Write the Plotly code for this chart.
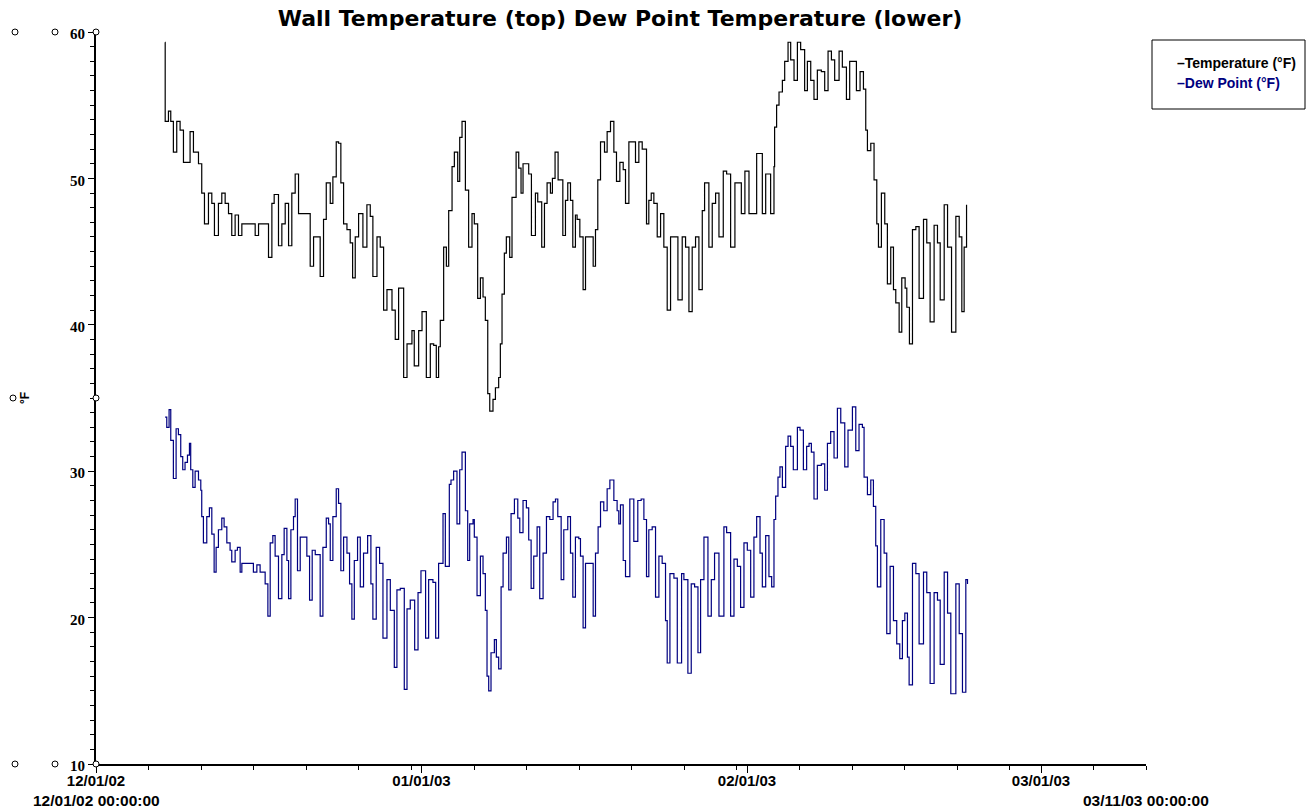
import pandas as pd
import plotly.graph_objects as go

# Time axis: day offsets from 12/01/02 00:00:00
START = pd.Timestamp("2002-12-01 00:00:00")
END = pd.Timestamp("2003-03-11 00:00:00")

# Wall temperature (°F)
temp_days = [
    6.58, 6.59, 6.90, 7.12, 7.37, 7.69, 8.01, 8.33, 8.96, 9.28,
    9.76, 10.07, 10.33, 10.71, 11.03, 11.28, 11.66, 11.98, 12.30, 12.62,
    12.93, 13.25, 13.57, 13.89, 14.68, 15.16, 15.48, 15.95, 16.43, 16.75,
    16.97, 17.38, 17.70, 18.02, 18.34, 18.65, 18.97, 19.29, 20.08, 20.40,
    20.72, 21.04, 21.35, 21.67, 21.93, 22.31, 22.56, 22.88, 23.10, 23.32,
    23.58, 23.90, 24.21, 24.44, 24.69, 25.01, 25.42, 25.80, 26.12, 26.37,
    26.76, 27.07, 27.39, 27.71, 28.03, 28.19, 28.50, 28.82, 29.30, 29.62,
    30.09, 30.31, 30.73, 31.05, 31.46, 31.84, 32.16, 32.41, 32.63, 32.79,
    33.11, 33.37, 33.59, 33.91, 34.13, 34.45, 34.64, 34.86, 35.18, 35.49,
    35.81, 36.03, 36.35, 36.61, 36.86, 37.08, 37.31, 37.50, 37.81, 38.04,
    38.35, 38.51, 38.67, 38.89, 39.08, 39.40, 39.62, 40.01, 40.26, 40.48,
    40.67, 40.99, 41.21, 41.47, 41.85, 42.07, 42.45, 42.71, 42.96, 43.28,
    43.47, 43.72, 44.01, 44.46, 44.71, 44.93, 45.19, 45.41, 45.66, 45.82,
    46.08, 46.39, 46.62, 47.03, 47.35, 47.57, 47.79, 48.05, 48.43, 48.68,
    49.00, 49.32, 49.57, 49.89, 50.21, 50.43, 50.75, 51.06, 51.38, 51.70,
    52.02, 52.43, 52.65, 52.88, 53.13, 53.45, 53.77, 54.08, 54.40, 54.72,
    55.10, 55.42, 55.83, 56.15, 56.47, 56.78, 57.10, 57.42, 57.74, 57.96,
    58.37, 58.69, 59.01, 59.33, 59.74, 60.06, 60.44, 60.85, 61.23, 61.46,
    61.80, 62.19, 62.35, 62.92, 63.46, 63.78, 64.25, 64.57, 64.63, 64.82,
    65.05, 65.37, 65.59, 65.91, 66.16, 66.48, 66.80, 67.11, 67.49, 67.75,
    68.07, 68.38, 68.70, 69.08, 69.40, 69.72, 70.04, 70.35, 70.77, 71.08,
    71.47, 71.78, 72.13, 72.42, 72.77, 73.09, 73.31, 73.47, 73.79, 74.10,
    74.36, 74.52, 74.80, 75.12, 75.37, 75.69, 75.95, 76.17, 76.49, 76.74,
    77.06, 77.22, 77.47, 77.76, 78.08, 78.39, 78.81, 79.12, 79.44, 79.82,
    80.14, 80.40, 80.78, 81.10, 81.48, 81.89, 82.21, 82.46, 82.68, 82.91,
]
temp_vals = [
    59.3, 53.9, 54.6, 53.9, 51.8, 53.9, 53.3, 51.1, 53.2, 51.8,
    51.0, 49.0, 46.9, 49.0, 48.3, 46.1, 48.3, 49.0, 48.3, 47.6,
    46.1, 47.5, 46.1, 46.9, 46.9, 46.1, 46.9, 46.9, 44.6, 48.3,
    48.9, 45.4, 46.9, 48.3, 45.4, 49.0, 50.3, 47.6, 47.6, 44.0,
    46.0, 46.0, 43.3, 47.2, 49.7, 48.3, 50.1, 52.5, 52.4, 49.7,
    46.9, 46.5, 45.6, 43.2, 46.0, 47.6, 45.3, 48.2, 47.4, 43.3,
    46.0, 45.3, 41.0, 42.4, 42.4, 41.0, 39.0, 42.5, 36.4, 38.7,
    39.6, 37.2, 39.6, 40.9, 36.4, 38.7, 38.6, 36.4, 38.5, 40.3,
    45.3, 44.0, 47.8, 50.8, 51.8, 49.8, 52.8, 53.9, 49.2, 45.3,
    47.6, 46.9, 41.8, 43.2, 41.9, 40.3, 35.3, 34.1, 34.9, 35.7,
    36.4, 38.7, 42.1, 44.9, 46.0, 44.6, 48.7, 51.8, 50.7, 49.0,
    51.0, 51.0, 50.3, 46.1, 49.0, 48.4, 45.3, 48.3, 49.7, 49.0,
    50.0, 51.8, 49.9, 46.1, 48.5, 49.7, 48.5, 45.3, 47.5, 47.2,
    46.0, 42.4, 46.0, 46.0, 44.0, 46.5, 49.9, 52.5, 51.8, 53.2,
    53.9, 51.8, 49.8, 51.1, 50.6, 48.3, 52.5, 52.5, 51.1, 52.5,
    52.0, 46.9, 48.5, 49.0, 48.3, 46.0, 47.6, 45.3, 41.0, 46.0,
    46.0, 41.7, 46.0, 45.3, 40.9, 45.3, 46.0, 42.4, 47.8, 49.7,
    45.3, 48.3, 49.0, 46.0, 50.5, 50.3, 45.3, 49.7, 49.7, 47.6,
    50.5, 47.6, 47.6, 51.7, 47.6, 50.3, 47.6, 50.8, 53.5, 55.0,
    55.9, 56.7, 58.0, 59.3, 58.1, 56.7, 59.3, 58.8, 56.0, 58.0,
    56.7, 55.4, 57.4, 57.3, 56.0, 58.7, 58.1, 56.7, 58.7, 57.6,
    55.4, 58.0, 58.0, 56.0, 57.3, 56.1, 53.3, 51.9, 52.4, 49.9,
    46.9, 45.3, 49.0, 46.9, 42.8, 45.3, 42.4, 41.5, 39.5, 43.2,
    42.5, 41.2, 38.7, 46.5, 46.7, 41.8, 47.2, 45.6, 40.2, 46.8,
    45.6, 41.7, 48.2, 45.3, 39.5, 47.4, 46.0, 40.9, 45.3, 48.2,
]

# Dew point (°F)
dew_days = [
    6.58, 6.74, 6.96, 7.12, 7.37, 7.63, 7.85, 8.07, 8.26, 8.48,
    8.71, 8.90, 9.02, 9.22, 9.44, 9.76, 9.98, 10.07, 10.23, 10.55,
    10.80, 11.03, 11.25, 11.44, 11.66, 11.98, 12.20, 12.46, 12.77, 12.93,
    13.25, 13.47, 13.73, 13.89, 14.68, 14.99, 15.32, 15.63, 16.11, 16.37,
    16.59, 16.84, 17.06, 17.38, 17.70, 17.92, 18.18, 18.34, 18.56, 18.81,
    18.97, 19.19, 19.45, 19.92, 20.08, 20.34, 20.59, 20.88, 21.35, 21.61,
    21.93, 22.15, 22.31, 22.56, 22.88, 23.10, 23.32, 23.58, 23.90, 24.15,
    24.37, 24.60, 24.91, 25.17, 25.48, 25.87, 26.18, 26.37, 26.69, 27.01,
    27.33, 27.71, 28.03, 28.41, 28.66, 28.98, 29.36, 29.62, 29.93, 30.35,
    30.67, 30.95, 31.39, 31.68, 32.09, 32.35, 32.63, 33.05, 33.27, 33.65,
    33.81, 34.06, 34.38, 34.64, 34.86, 35.18, 35.40, 35.59, 35.91, 36.03,
    36.29, 36.61, 36.86, 37.08, 37.24, 37.40, 37.62, 37.94, 38.13, 38.35,
    38.58, 38.77, 39.09, 39.31, 39.53, 39.85, 40.17, 40.36, 40.67, 40.99,
    41.21, 41.44, 41.69, 42.01, 42.26, 42.58, 42.90, 43.22, 43.53, 43.76,
    43.98, 44.30, 44.55, 44.93, 45.19, 45.41, 45.66, 45.98, 46.14, 46.39,
    46.62, 47.03, 47.35, 47.57, 47.82, 48.05, 48.36, 48.68, 48.94, 49.32,
    49.63, 49.79, 49.95, 50.21, 50.43, 50.84, 51.22, 51.60, 51.92, 52.18,
    52.43, 52.65, 52.97, 53.29, 53.61, 53.92, 54.24, 54.40, 54.66, 55.04,
    55.36, 55.77, 55.99, 56.37, 56.69, 57.01, 57.33, 57.58, 57.90, 58.28,
    58.60, 58.91, 59.33, 59.80, 60.06, 60.44, 60.76, 61.08, 61.39, 61.71,
    62.03, 62.35, 62.66, 62.92, 63.24, 63.46, 63.78, 64.09, 64.35, 64.57,
    64.73, 64.95, 65.14, 65.37, 65.68, 65.91, 66.16, 66.41, 66.80, 67.05,
    67.37, 67.68, 67.91, 68.13, 68.38, 68.70, 69.08, 69.40, 69.66, 69.97,
    70.29, 70.61, 70.93, 71.31, 71.62, 72.04, 72.36, 72.67, 72.99, 73.15,
    73.47, 73.79, 74.04, 74.26, 74.42, 74.74, 75.06, 75.31, 75.63, 75.95,
    76.26, 76.55, 76.80, 77.03, 77.28, 77.44, 77.76, 78.08, 78.39, 78.81,
    79.12, 79.44, 79.82, 80.14, 80.40, 80.78, 81.10, 81.41, 81.89, 82.21,
    82.52, 82.84, 83.00,
]
dew_vals = [
    33.7, 33.0, 34.2, 32.1, 29.5, 32.9, 32.5, 31.0, 30.1, 30.6,
    31.1, 31.9, 30.1, 28.9, 30.0, 29.4, 28.7, 26.9, 25.1, 26.9,
    27.5, 25.7, 23.1, 24.8, 26.0, 26.8, 26.2, 25.1, 24.6, 23.8,
    24.6, 24.8, 23.1, 23.7, 23.7, 23.1, 23.6, 23.1, 22.3, 20.1,
    25.1, 25.6, 24.2, 21.3, 24.3, 26.1, 23.9, 21.3, 26.0, 26.9,
    28.1, 23.2, 25.5, 25.5, 24.2, 21.2, 24.6, 24.3, 20.1, 24.8,
    26.8, 26.4, 23.9, 26.9, 28.8, 27.8, 23.2, 25.5, 24.4, 22.3,
    19.9, 23.9, 25.5, 22.1, 24.4, 25.6, 22.3, 19.9, 24.8, 23.7,
    18.6, 22.6, 20.5, 16.6, 21.9, 22.0, 15.1, 20.6, 21.2, 17.8,
    21.7, 23.2, 18.6, 22.6, 22.4, 18.6, 23.7, 27.1, 23.5, 29.1,
    29.4, 30.0, 26.4, 30.1, 31.3, 27.3, 23.9, 26.4, 26.7, 25.5,
    21.5, 24.2, 23.0, 20.5, 16.0, 15.0, 17.6, 18.5, 17.3, 16.5,
    22.1, 24.4, 25.5, 21.9, 27.1, 28.1, 26.8, 25.8, 28.0, 27.5,
    25.3, 22.0, 24.2, 26.2, 21.3, 24.4, 26.9, 26.7, 27.9, 28.1,
    26.9, 22.6, 26.0, 26.9, 24.4, 21.4, 25.5, 25.4, 24.2, 19.3,
    23.7, 23.7, 20.1, 24.4, 26.2, 27.9, 27.3, 28.8, 29.4, 28.0,
    27.3, 26.4, 27.7, 23.9, 22.8, 28.1, 25.2, 28.0, 28.1, 26.7,
    22.8, 26.0, 26.2, 21.4, 24.2, 23.7, 19.8, 16.9, 23.0, 22.7,
    16.9, 23.0, 22.6, 16.2, 22.3, 22.1, 17.6, 22.6, 25.5, 20.1,
    22.6, 24.4, 20.1, 26.2, 25.8, 20.1, 24.0, 23.5, 20.7, 25.1,
    24.6, 21.4, 25.5, 26.9, 24.4, 22.1, 25.6, 22.8, 22.1, 26.7,
    28.3, 29.6, 30.3, 28.9, 31.7, 32.4, 31.7, 30.1, 33.0, 32.8,
    30.1, 31.7, 31.9, 31.3, 28.1, 30.4, 30.5, 28.7, 31.9, 32.7,
    30.9, 34.3, 33.3, 30.3, 32.8, 34.4, 31.4, 33.2, 33.0, 29.6,
    28.4, 29.4, 27.6, 24.9, 22.1, 26.7, 24.4, 18.9, 23.5, 19.8,
    18.2, 17.2, 19.8, 20.3, 17.3, 15.4, 23.7, 23.0, 18.2, 23.1,
    21.7, 15.5, 21.7, 21.2, 16.8, 23.1, 20.3, 14.8, 22.3, 18.9,
    14.9, 22.6, 22.3,
]

# Axis ticks
major_ticks = ["2002-12-01", "2003-01-01", "2003-02-01", "2003-03-01"]
major_labels = ["12/01/02", "01/01/03", "02/01/03", "03/01/03"]
minor_ticks = [
    "2002-12-06", "2002-12-11", "2002-12-16", "2002-12-21", "2002-12-26", "2002-12-31",
    "2003-01-06", "2003-01-11", "2003-01-16", "2003-01-21", "2003-01-26", "2003-01-31",
    "2003-02-06", "2003-02-11", "2003-02-16", "2003-02-21", "2003-02-26",
    "2003-03-06", "2003-03-11",
]
y_ticks = [10, 20, 30, 40, 50, 60]
range_labels = ["12/01/02 00:00:00", "03/11/03 00:00:00"]

assert len(temp_days) == len(temp_vals)
assert len(dew_days) == len(dew_vals)


def to_dates(days):
    return [START + pd.Timedelta(days=d) for d in days]


TEMP_COLOR = "#000000"
DEW_COLOR = "#000080"
SANS = "Liberation Sans"

fig = go.Figure()
fig.add_trace(go.Scatter(
    x=to_dates(temp_days), y=temp_vals, mode="lines", name="Temperature (°F)",
    line=dict(color=TEMP_COLOR, width=1.2, shape="hv"), showlegend=False,
))
fig.add_trace(go.Scatter(
    x=to_dates(dew_days), y=dew_vals, mode="lines", name="Dew Point (°F)",
    line=dict(color=DEW_COLOR, width=1.2, shape="hv"), showlegend=False,
))

# Plot area spans x 96..1146 px, y 32..764 px
L, R, T, B = 96, 161, 32, 46
W, H = 1307, 810
pw, ph = W - L - R, H - T - B


def px_x(x):
    return (x - L) / pw


def px_y(y):
    return (H - B - y) / ph


fig.update_layout(
    width=W, height=H,
    margin=dict(l=L, r=R, t=T, b=B),
    paper_bgcolor="white", plot_bgcolor="white",
    title=dict(
        text="Wall Temperature (top) Dew Point Temperature (lower)",
        x=620 / W, xanchor="center", y=1 - 18 / H, yanchor="middle", yref="container",
        font=dict(family="DejaVu Sans", size=22, color="black", weight="bold"),
    ),
    xaxis=dict(
        type="date", range=[START, END],
        tickmode="array", tickvals=major_ticks, ticktext=major_labels,
        ticks="outside", ticklen=7, tickwidth=1, tickcolor="black",
        ticklabelstandoff=-5,
        showline=True, linecolor="black", linewidth=1.5,
        showgrid=False, zeroline=False,
        tickfont=dict(family=SANS, size=15, color="black", weight="bold"),
        minor=dict(tickmode="array", tickvals=minor_ticks, ticks="outside",
                   ticklen=4, tickwidth=1, tickcolor="black", showgrid=False),
    ),
    yaxis=dict(
        range=[10, 60], tickmode="array", tickvals=y_ticks,
        ticks="outside", ticklen=6, tickwidth=1, tickcolor="black",
        ticklabelshift=2,
        showline=True, linecolor="black", linewidth=2,
        showgrid=False, zeroline=False,
        tickfont=dict(family="Liberation Serif", size=15, color="black", weight="bold"),
        minor=dict(dtick=1, ticks="outside", ticklen=4, tickwidth=1,
                   tickcolor="black", showgrid=False),
    ),
)

shapes = []


def ring(xp, yp, yref="paper"):
    shapes.append(dict(
        type="circle", xref="paper", yref=yref, xsizemode="pixel", ysizemode="pixel",
        xanchor=xp, yanchor=yp, x0=-3, x1=3, y0=-3, y1=3,
        line=dict(color="black", width=1), fillcolor="white", layer="above",
    ))


# Axis handle markers
for yp in (1.0, 0.0):
    ring(px_x(15), yp)
    ring(px_x(55), yp)
    ring(0.0, yp)
ring(px_x(13), 35, yref="y")
ring(0.0, 35, yref="y")

# Legend frame
shapes.append(dict(
    type="rect", xref="paper", yref="paper",
    x0=px_x(1152), x1=px_x(1305), y0=px_y(109), y1=px_y(40),
    line=dict(color="black", width=1), fillcolor="white", layer="below",
))
fig.update_layout(shapes=shapes)

annotations = [
    dict(text="–Temperature (°F)", x=px_x(1175), y=px_y(63), xref="paper", yref="paper",
         xanchor="left", yanchor="middle", showarrow=False,
         font=dict(family=SANS, size=14, color=TEMP_COLOR, weight="bold")),
    dict(text="–Dew Point (°F)", x=px_x(1175), y=px_y(83), xref="paper", yref="paper",
         xanchor="left", yanchor="middle", showarrow=False,
         font=dict(family=SANS, size=14, color=DEW_COLOR, weight="bold")),
    dict(text=range_labels[0], x=0.0, y=px_y(800), xref="paper", yref="paper",
         xanchor="center", yanchor="middle", showarrow=False,
         font=dict(family=SANS, size=15.5, color="black", weight="bold")),
    dict(text=range_labels[1], x=1.0, y=px_y(800), xref="paper", yref="paper",
         xanchor="center", yanchor="middle", showarrow=False,
         font=dict(family=SANS, size=15.5, color="black", weight="bold")),
    dict(text="°F", x=px_x(25), y=35, xref="paper", yref="y",
         xanchor="center", yanchor="middle", textangle=-90, showarrow=False,
         font=dict(family=SANS, size=12, color="black", weight="bold")),
]
fig.update_layout(annotations=annotations)

fig.write_html("out.html")
